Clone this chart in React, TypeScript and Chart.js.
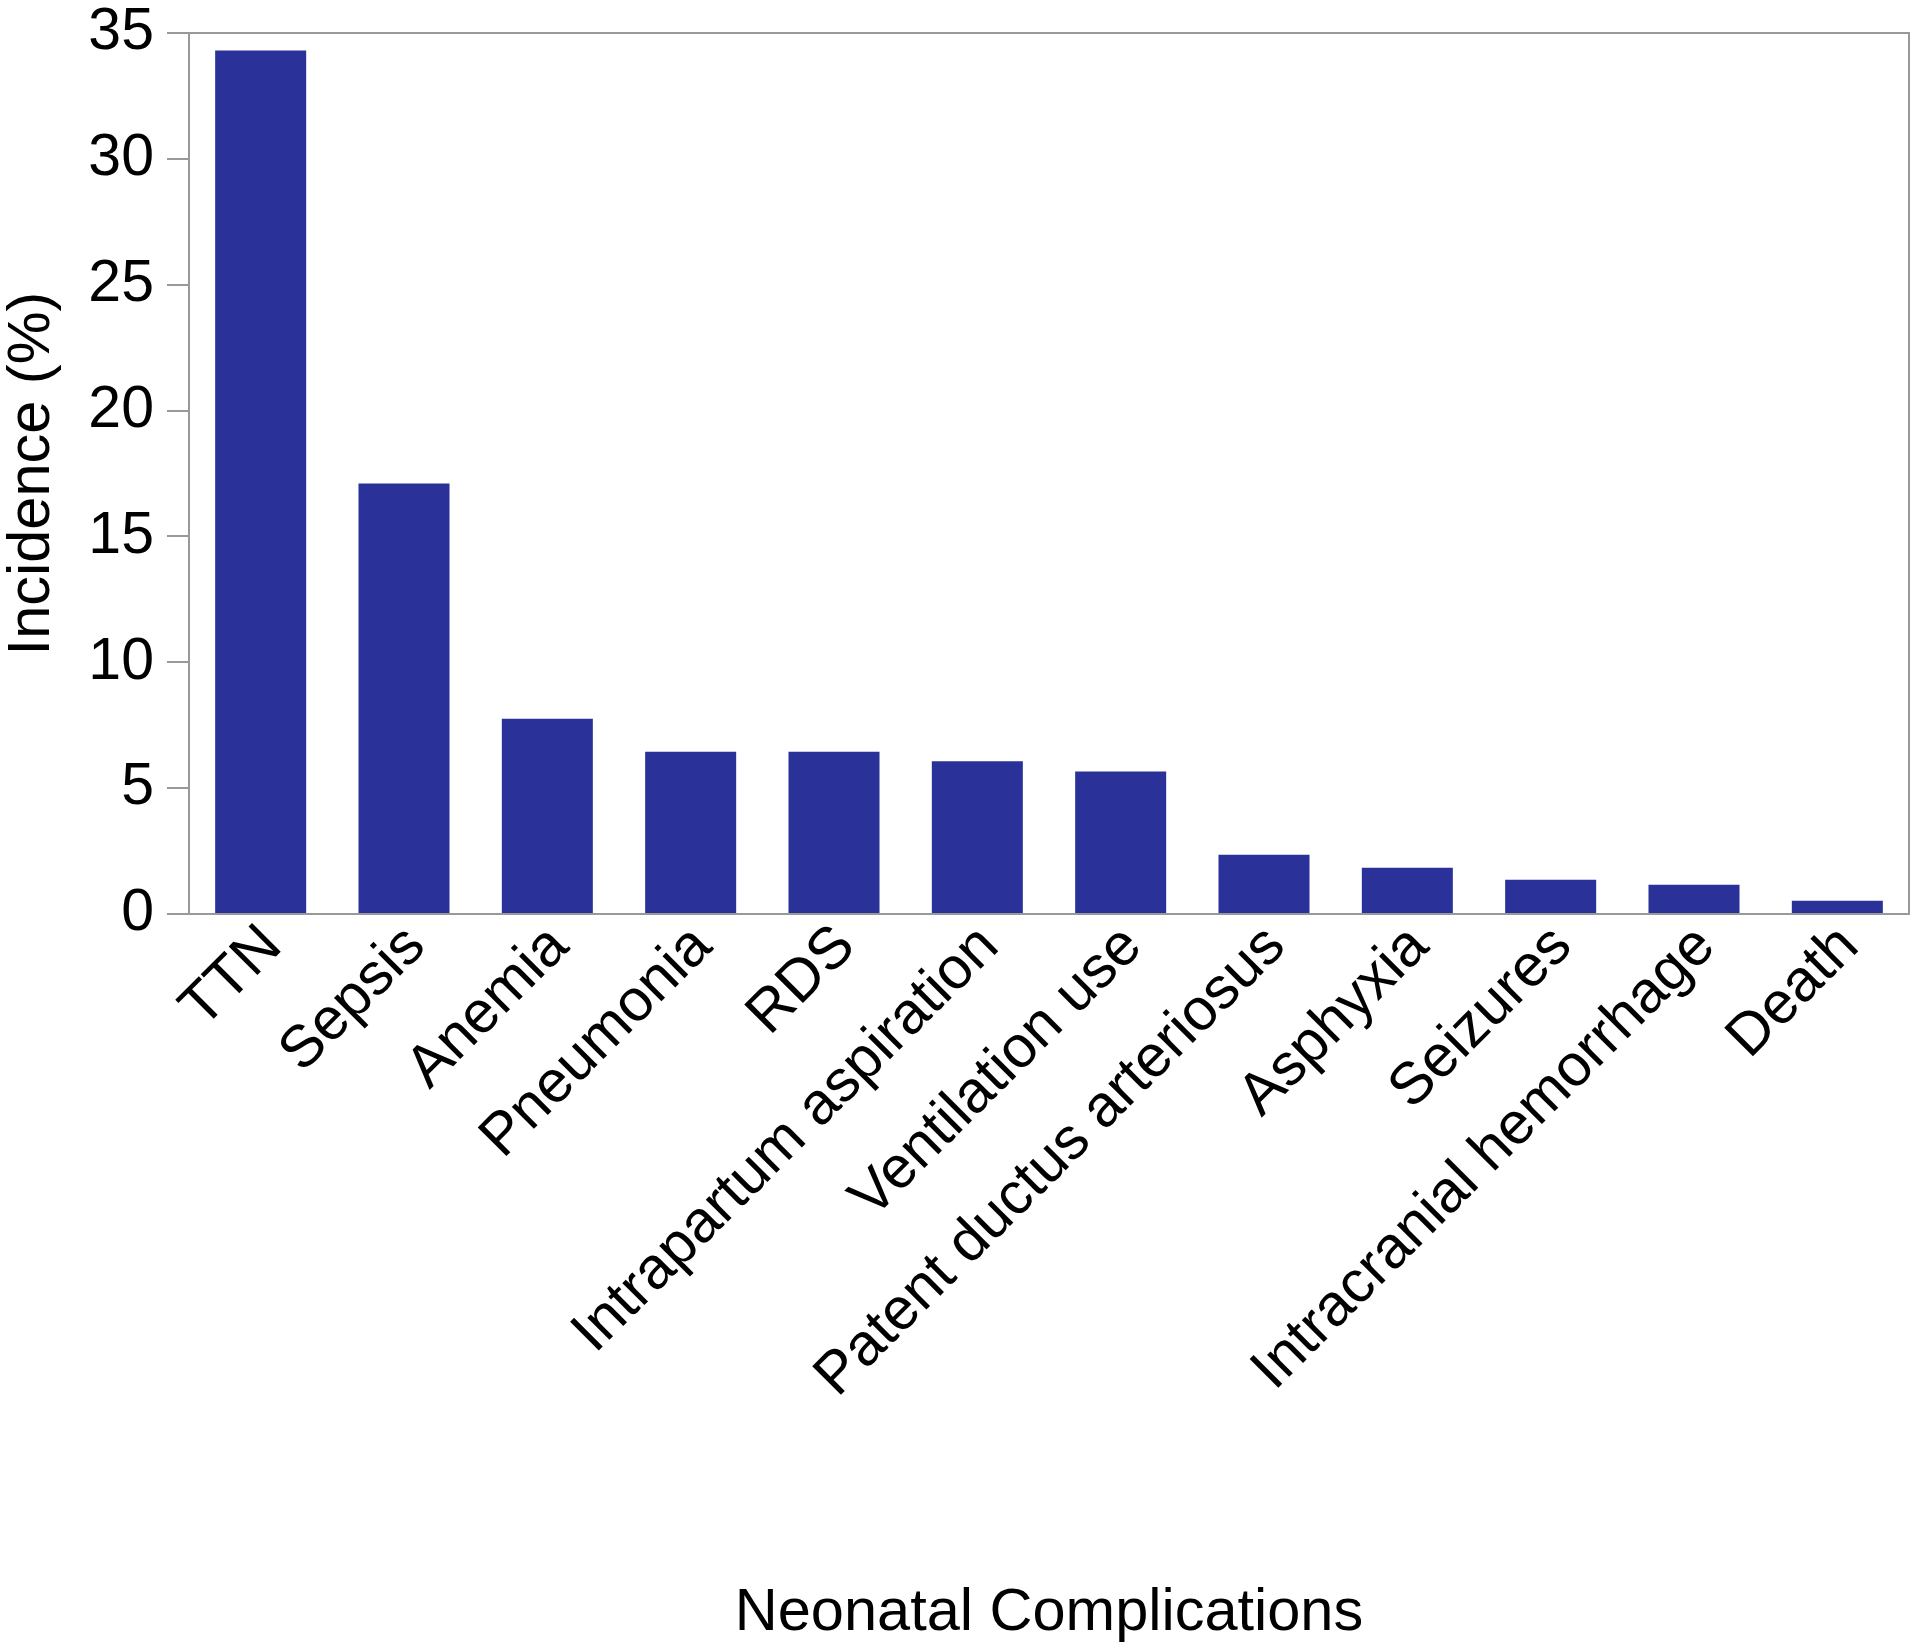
import React, { useEffect, useRef } from "react";
import { Chart, registerables } from "chart.js";

Chart.register(...registerables);

const categories = [
  "TTN",
  "Sepsis",
  "Anemia",
  "Pneumonia",
  "RDS",
  "Intrapartum aspiration",
  "Ventilation use",
  "Patent ductus arteriosus",
  "Asphyxia",
  "Seizures",
  "Intracranial hemorrhage",
  "Death",
];

const incidence = [34.3, 17.1, 7.76, 6.45, 6.45, 6.07, 5.66, 2.35, 1.84, 1.36, 1.16, 0.53];

const yTicks = [0, 5, 10, 15, 20, 25, 30, 35];

const xTitle = "Neonatal Complications";
const yTitle = "Incidence (%)";

const FONT = "'Liberation Sans', Arial, Helvetica, sans-serif";
const AXIS_GRAY = "#999999";
const BAR_COLOR = "#2a3199";

const framePlugin = {
  id: "frame",
  afterDraw(chart: any) {
    const { ctx, chartArea } = chart;
    ctx.save();
    ctx.strokeStyle = AXIS_GRAY;
    ctx.lineWidth = 2;
    ctx.beginPath();
    ctx.moveTo(chartArea.left, chartArea.top);
    ctx.lineTo(chartArea.right, chartArea.top);
    ctx.lineTo(chartArea.right, chartArea.bottom);
    ctx.stroke();
    ctx.restore();
  },
};

export default function App() {
  const canvasRef = useRef<HTMLCanvasElement | null>(null);

  useEffect(() => {
    document.body.style.margin = "0";
    const canvas = canvasRef.current;
    if (!canvas) return;
    const chart = new Chart(canvas, {
      type: "bar",
      data: {
        labels: categories,
        datasets: [
          {
            data: incidence,
            backgroundColor: BAR_COLOR,
            borderWidth: 0,
            barPercentage: 1,
            categoryPercentage: 0.635,
          },
        ],
      },
      options: {
        animation: false,
        responsive: false,
        maintainAspectRatio: false,
        devicePixelRatio: 1,
        layout: { padding: { top: 33, right: 11, left: 0, bottom: 0 } },
        plugins: {
          legend: { display: false },
          tooltip: { enabled: false },
        },
        scales: {
          x: {
            type: "category",
            grid: { display: false, drawTicks: false },
            border: { display: true, color: AXIS_GRAY, width: 2 },
            ticks: {
              autoSkip: false,
              maxRotation: 45,
              minRotation: 45,
              padding: 14,
              labelOffset: 12,
              color: "#000",
              font: { family: FONT, size: 59, lineHeight: 0.43 },
            },
            title: {
              display: true,
              text: xTitle,
              color: "#000",
              font: { family: FONT, size: 59.5, lineHeight: 1.2 },
              padding: { top: 0, bottom: 2 },
            },
            afterFit(scale: any) {
              scale.height = 1651 - 914;
            },
          },
          y: {
            type: "linear",
            min: 0,
            max: 35,
            afterBuildTicks(scale: any) {
              scale.ticks = yTicks.map((v) => ({ value: v }));
            },
            grid: {
              display: true,
              drawOnChartArea: false,
              drawTicks: true,
              tickLength: 22,
              color: AXIS_GRAY,
              lineWidth: 2,
            },
            border: { display: true, color: AXIS_GRAY, width: 2 },
            ticks: {
              padding: 13,
              color: "#000",
              font: { family: FONT, size: 59, lineHeight: 0.3 },
            },
            title: {
              display: true,
              text: yTitle,
              color: "#000",
              font: { family: FONT, size: 59.5, lineHeight: 1.1 },
              padding: { top: 0, bottom: 0 },
            },
            afterFit(scale: any) {
              scale.width = 189;
            },
          },
        },
      },
      plugins: [framePlugin],
    });
    return () => chart.destroy();
  }, []);

  return (
    <div style={{ width: 1920, height: 1651, position: "relative" }}>
      <canvas ref={canvasRef} width={1920} height={1651} style={{ width: 1920, height: 1651, display: "block" }} />
    </div>
  );
}
